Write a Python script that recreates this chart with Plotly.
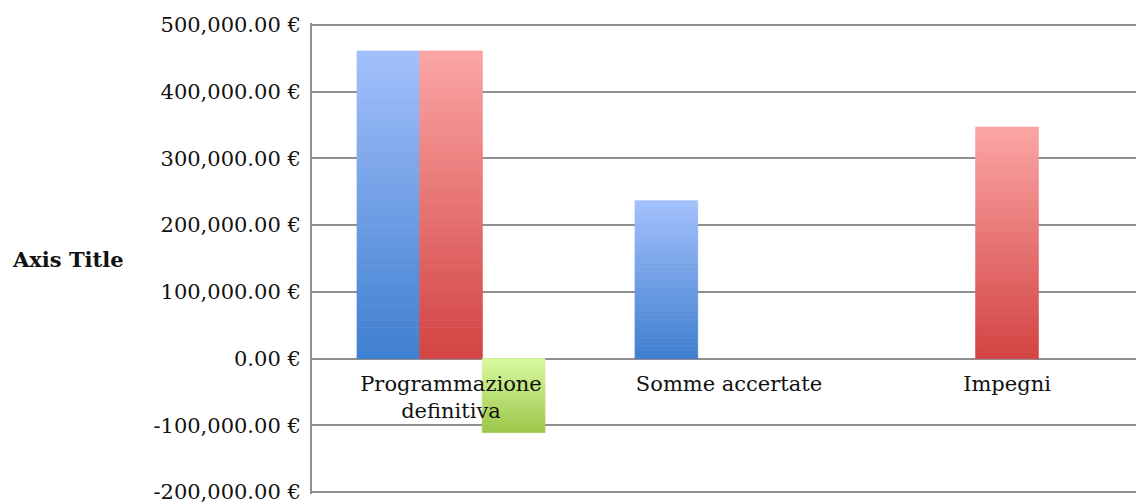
import plotly.graph_objects as go

categories = ["Programmazione<br>definitiva", "Somme accertate", "Impegni"]
series_names = ["Serie 1", "Serie 2", "Serie 3"]
serie1 = [461000, 236500, 0]
serie2 = [461000, 0, 347000]
serie3 = [-111000, 0, 0]
y_ticks = [-200000, -100000, 0, 100000, 200000, 300000, 400000, 500000]
y_labels = [f"{v:,.2f} €" for v in y_ticks]

# gradient colours (top, bottom) for each series
grad = [((163, 192, 252), (63, 127, 207)),
        ((251, 166, 164), (210, 67, 67)),
        ((216, 250, 160), (158, 199, 75))]

N = 40  # slices used to fake the vertical gradient


def mix(a, b, t):
    return "rgb(%d,%d,%d)" % tuple(round(a[i] + (b[i] - a[i]) * t) for i in range(3))


fig = go.Figure()
for name, vals, (top, bot) in zip(series_names, [serie1, serie2, serie3], grad):
    for k in range(N):
        f = (k + 0.5) / N
        colors = []
        for v in vals:
            # fraction measured from the bottom of the bar
            up = f if v >= 0 else 1 - f
            colors.append(mix(bot, top, up))
        fig.add_trace(go.Bar(
            x=categories,
            y=[v / N if v else None for v in vals],
            base=[v * k / N for v in vals],
            offsetgroup=name, marker=dict(color=colors, line=dict(width=0.8, color=colors)),
            name=name, showlegend=False, hoverinfo="skip"))

pad = 3000  # keeps the edge gridlines from being clipped
lo, hi = y_ticks[0] - pad, y_ticks[-1] + pad

fig.update_layout(
    width=1136, height=504, barmode="group", bargap=0.324, bargroupgap=0,
    margin=dict(l=312, r=0, t=23, b=10),
    plot_bgcolor="white", paper_bgcolor="white",
    font=dict(family="DejaVu Serif", size=21, color="#111"),
    xaxis=dict(anchor="free", position=-lo / (hi - lo), range=[-0.5, 2.464],
               showgrid=False, showline=False, zeroline=False, ticks="",
               ticklabelstandoff=10, layer="above traces"),
    yaxis=dict(range=[lo, hi], tickvals=y_ticks, ticktext=y_labels,
               showgrid=True, gridcolor="#8f8f8f", gridwidth=2,
               zeroline=False, showline=True, linecolor="#8f8f8f", linewidth=2,
               ticks="", ticklabelstandoff=5, ticklabeloverflow="allow"),
    annotations=[dict(text="<b>Axis Title</b>", xref="paper", yref="paper",
                      x=-0.296, y=0.497, xanchor="center", yanchor="middle",
                      showarrow=False)],
)

fig.write_html("out.html", config={"displayModeBar": False},
               post_script="document.body.style.margin='0';")
